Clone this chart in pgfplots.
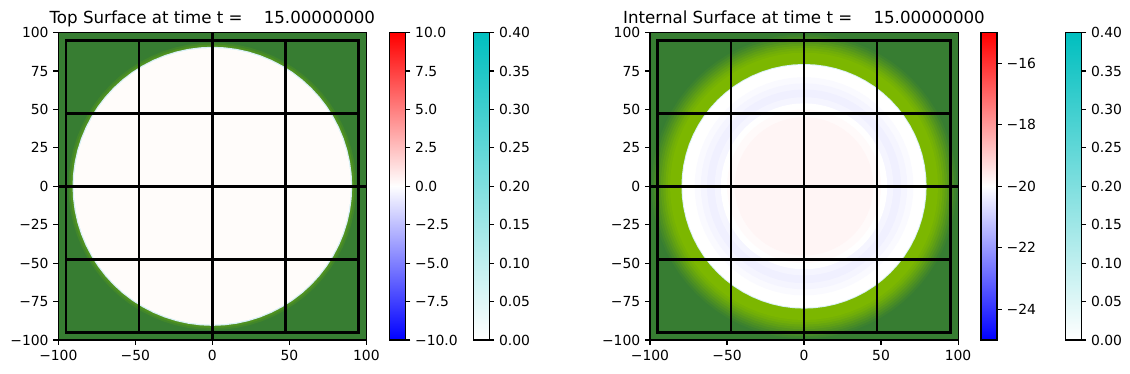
\documentclass[border=0pt]{standalone}
\usepackage{fontspec}
\setmainfont{DejaVu Sans}
\usepackage{pgfplots}
\pgfplotsset{compat=1.18}
\usepackage{pgfplotstable}

\definecolor{dkg}{RGB}{55,125,50}
\definecolor{ygr}{RGB}{124,183,0}
\definecolor{warmwhite}{RGB}{255,252,250}
\definecolor{fringe}{RGB}{215,240,246}

\pgfplotstableread[row sep=\\]{a r\\0 1\\5 1\\10 1\\15 1\\20 1\\25 1\\30 1\\35 1\\40 1\\45 1\\50 1\\55 1\\60 1\\65 1\\70 1\\75 1\\80 1\\85 1\\90 1\\95 1\\100 1\\105 1\\110 1\\115 1\\120 1\\125 1\\130 1\\135 1\\140 1\\145 1\\150 1\\155 1\\160 1\\165 1\\170 1\\175 1\\180 1\\185 1\\190 1\\195 1\\200 1\\205 1\\210 1\\215 1\\220 1\\225 1\\230 1\\235 1\\240 1\\245 1\\250 1\\255 1\\260 1\\265 1\\270 1\\275 1\\280 1\\285 1\\290 1\\295 1\\300 1\\305 1\\310 1\\315 1\\320 1\\325 1\\330 1\\335 1\\340 1\\345 1\\350 1\\355 1\\360 1\\}\angles

\newcommand{\disc}[2]{\addplot[fill=#2, draw=none, mark=none, forget plot, data cs=polar] table[x=a, y expr=#1*\thisrow{r}] {\angles};}

\pgfplotsset{
  colormap={bwr}{rgb255=(0,0,255) rgb255=(255,255,255) rgb255=(255,0,0)},
  colormap={wcyan}{rgb255=(255,255,255) rgb255=(0,191,191)},
  mainax/.style={scale only axis, width=221.8pt, height=221.3pt, anchor=south west,
    xmin=-100, xmax=100, ymin=-100, ymax=100,
    xtick={-100,-50,0,50,100}, xticklabels={−100,−50,0,50,100},
    ytick={-100,-75,-50,-25,0,25,50,75,100},
    yticklabels={−100,−75,−50,−25,0,25,50,75,100},
    tick align=outside, tick pos=left, major tick length=3.5pt,
    tick style={black, line width=0.8pt},
    axis line style={line width=0.8pt},
    axis background/.style={fill=dkg},
    tick label style={font=\fontsize{10}{12}\selectfont},
    title style={font=\fontsize{12}{14}\selectfont, at={(0.5,1)}, anchor=base, yshift=0.8pt}},
  cbax/.style={scale only axis, width=11.5pt, height=221.3pt, anchor=south west,
    xmin=0, xmax=1, xtick=\empty, enlargelimits=false,
    ytick pos=right, yticklabel pos=right,
    tick align=outside, major tick length=3.5pt,
    tick style={black, line width=0.8pt},
    axis line style={line width=0.8pt}, axis on top,
    tick label style={font=\fontsize{10}{12}\selectfont}},
  gl/.style={black, line width=1.8pt, mark=none, line cap=rect, forget plot},
}

\begin{document}
\begin{tikzpicture}
\path[use as bounding box] (0,0) rectangle (813.6pt,269.28pt);

% ---------- Panel 1 ----------
\begin{axis}[mainax, at={(42pt,24.48pt)}, title={Top Surface at time t =~~~~15.00000000}]
\disc{93.5}{ygr!15!dkg}
\disc{92.2}{ygr!35!dkg}
\disc{90.8}{fringe}
\disc{90}{warmwhite}
\addplot[gl] coordinates {(-95,-95) (95,-95) (95,95) (-95,95) (-95,-95)};
\addplot[gl] coordinates {(-47.5,-95) (-47.5,95)};
\addplot[gl] coordinates {(47.5,-95) (47.5,95)};
\addplot[gl] coordinates {(0,-100) (0,100)};
\addplot[gl] coordinates {(-95,-47.5) (95,-47.5)};
\addplot[gl] coordinates {(-95,47.5) (95,47.5)};
\addplot[gl] coordinates {(-100,0) (100,0)};
\end{axis}

\begin{axis}[cbax, at={(280.4pt,24.48pt)}, colormap name=bwr, ymin=-10, ymax=10,
  ytick={-10,-7.5,-5,-2.5,0,2.5,5,7.5,10},
  yticklabels={−10.0,−7.5,−5.0,−2.5,0.0,2.5,5.0,7.5,10.0}]
\addplot[surf, shader=interp, mesh/cols=2, point meta=y] table {
x y
0 -10
1 -10
0 0
1 0
0 10
1 10
};
\end{axis}

\begin{axis}[cbax, at={(340.8pt,24.48pt)}, colormap name=wcyan, ymin=0, ymax=0.4,
  ytick={0,0.05,0.1,0.15,0.2,0.25,0.3,0.35,0.4},
  yticklabels={0.00,0.05,0.10,0.15,0.20,0.25,0.30,0.35,0.40}]
\addplot[surf, shader=interp, mesh/cols=2, point meta=y] table {
x y
0 0
1 0
0 0.4
1 0.4
};
\end{axis}

% ---------- Panel 2 ----------
\begin{axis}[mainax, at={(468pt,24.48pt)}, title={Internal Surface at time t =~~~~15.00000000}]
\disc{99}{ygr!8!dkg}
\disc{97.5}{ygr!20!dkg}
\disc{96}{ygr!32!dkg}
\disc{94.5}{ygr!45!dkg}
\disc{93}{ygr!58!dkg}
\disc{91.5}{ygr!70!dkg}
\disc{90}{ygr!82!dkg}
\disc{88.5}{ygr!92!dkg}
\disc{87}{ygr}
\disc{79.6}{fringe}
\disc{79}{white}
\disc{71}{blue!2!white}
\disc{67}{blue!4!white}
\disc{63}{blue!6!white}
\disc{58}{blue!4!white}
\disc{54}{white}
\disc{50}{red!2!white}
\disc{45}{red!4!white}
\addplot[gl] coordinates {(-95,-95) (95,-95) (95,95) (-95,95) (-95,-95)};
\addplot[gl] coordinates {(-47.5,-95) (-47.5,95)};
\addplot[gl] coordinates {(47.5,-95) (47.5,95)};
\addplot[gl] coordinates {(0,-100) (0,100)};
\addplot[gl] coordinates {(-95,-47.5) (95,-47.5)};
\addplot[gl] coordinates {(-95,47.5) (95,47.5)};
\addplot[gl] coordinates {(-100,0) (100,0)};
\end{axis}

\begin{axis}[cbax, at={(706.3pt,24.48pt)}, colormap name=bwr, ymin=-25, ymax=-15,
  ytick={-24,-22,-20,-18,-16},
  yticklabels={−24,−22,−20,−18,−16}]
\addplot[surf, shader=interp, mesh/cols=2, point meta=y] table {
x y
0 -25
1 -25
0 -20
1 -20
0 -15
1 -15
};
\end{axis}

\begin{axis}[cbax, at={(767pt,24.48pt)}, colormap name=wcyan, ymin=0, ymax=0.4,
  ytick={0,0.05,0.1,0.15,0.2,0.25,0.3,0.35,0.4},
  yticklabels={0.00,0.05,0.10,0.15,0.20,0.25,0.30,0.35,0.40}]
\addplot[surf, shader=interp, mesh/cols=2, point meta=y] table {
x y
0 0
1 0
0 0.4
1 0.4
};
\end{axis}
\end{tikzpicture}
\end{document}
